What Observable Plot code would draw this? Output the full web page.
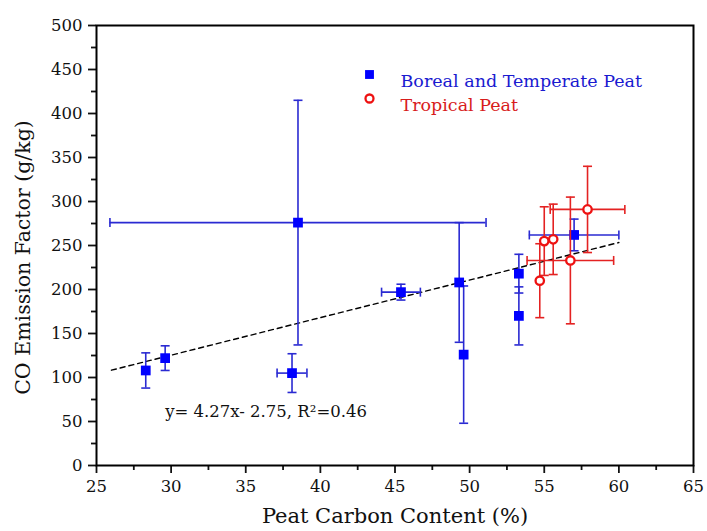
<!DOCTYPE html>
<html>
<head>
<meta charset="utf-8">
<script src="https://cdn.jsdelivr.net/npm/d3@7"></script>
<script src="https://cdn.jsdelivr.net/npm/@observablehq/plot@0.6"></script>
<style>
  html, body { margin: 0; padding: 0; background: #fff; }
  #chart svg { display: block; }
</style>
</head>
<body>
<div id="chart"></div>
<script>
// ---- data ----
const borealX    = [28.3, 29.6, 38.1, 38.5, 45.4, 49.3, 49.6, 53.3, 53.3, 57.0];
const borealY    = [108, 122, 105, 276, 197, 208, 126, 218, 170, 262];
const borealXErr = [0, 0, 1.0, 12.6, 1.3, 0, 0, 0, 0, 3.0];
const borealYErr = [20, 14, 22, 139, 9, 68, 78, 22, 33, 18];

const tropX    = [54.7, 55.0, 55.6, 56.75, 57.9];
const tropY    = [210, 255, 257, 233, 291];
const tropXErr = [0, 0, 0, 2.9, 2.5];
const tropYErr = [42, 39, 40, 72, 49];

const fitX = [26, 60];
const fitY = [108.3, 253.4];
const eqLabel = "y= 4.27x- 2.75, R\u00B2=0.46";
const eqPos = [29.6, 61];

const xTicks = [25, 30, 35, 40, 45, 50, 55, 60, 65];
const xMinor = [27.5, 32.5, 37.5, 42.5, 47.5, 52.5, 57.5, 62.5];
const yTicks = [0, 50, 100, 150, 200, 250, 300, 350, 400, 450, 500];
const yMinor = [25, 75, 125, 175, 225, 275, 325, 375, 425, 475];

const legendLabels = ["Boreal and Temperate Peat", "Tropical Peat"];
const xLabel = "Peat Carbon Content (%)";
const yLabel = "CO Emission Factor (g/kg)";

// ---- build tables ----
const boreal = borealX.map((x, i) => ({x, y: borealY[i], ex: borealXErr[i], ey: borealYErr[i]}));
const trop = tropX.map((x, i) => ({x, y: tropY[i], ex: tropXErr[i], ey: tropYErr[i]}));
const fit = fitX.map((x, i) => ({x, y: fitY[i]}));

const BLUE = "#0000ff", BLUE_ERR = "#2a2ad2", RED = "#ee1111", RED_ERR = "#e42222";
const FONT = "DejaVu Serif";

// custom cap symbols (fixed pixel width)
const capH = {draw(ctx, size) { const r = Math.sqrt(size / Math.PI); ctx.moveTo(-r, 0); ctx.lineTo(r, 0); }};
const capV = {draw(ctx, size) { const r = Math.sqrt(size / Math.PI); ctx.moveTo(0, -r); ctx.lineTo(0, r); }};

function errMarks(data, color) {
  const xe = data.filter(d => d.ex > 0);
  const ye = data.filter(d => d.ey > 0);
  const capOpt = {stroke: color, strokeWidth: 1.6, r: 4.5, fill: "none"};
  return [
    Plot.ruleX(ye, {x: "x", y1: d => d.y - d.ey, y2: d => d.y + d.ey, stroke: color, strokeWidth: 1.6}),
    Plot.ruleY(xe, {y: "y", x1: d => d.x - d.ex, x2: d => d.x + d.ex, stroke: color, strokeWidth: 1.6}),
    Plot.dot(ye, {x: "x", y: d => d.y + d.ey, symbol: capH, ...capOpt}),
    Plot.dot(ye, {x: "x", y: d => d.y - d.ey, symbol: capH, ...capOpt}),
    Plot.dot(xe, {x: d => d.x + d.ex, y: "y", symbol: capV, ...capOpt}),
    Plot.dot(xe, {x: d => d.x - d.ex, y: "y", symbol: capV, ...capOpt})
  ];
}

const chart = Plot.plot({
  width: 707,
  height: 531,
  marginLeft: 96,
  marginRight: 14,
  marginTop: 25,
  marginBottom: 66,
  x: {domain: [25, 65]},
  y: {domain: [0, 500]},
  style: {fontFamily: FONT, fontSize: "16.5px", color: "#111", background: "#fff"},
  marks: [
    Plot.axisX({ticks: xTicks, tickSize: 8, tickPadding: 7, label: null, strokeWidth: 1.8, fontSize: 16.5, fontFamily: FONT}),
    Plot.axisX({ticks: xMinor, tickSize: 5, tickFormat: () => "", label: null, strokeWidth: 1.8}),
    Plot.axisY({ticks: yTicks, tickSize: 8, tickPadding: 6, label: null, strokeWidth: 1.8, fontSize: 16.5, fontFamily: FONT}),
    Plot.axisY({ticks: yMinor, tickSize: 5, tickFormat: () => "", label: null, strokeWidth: 1.8}),
    Plot.frame({stroke: "#000", strokeWidth: 2}),
    Plot.line(fit, {x: "x", y: "y", stroke: "#000", strokeWidth: 1.4, strokeDasharray: "5,4"}),
    ...errMarks(boreal, BLUE_ERR),
    Plot.dot(boreal, {x: "x", y: "y", symbol: "square", fill: BLUE, r: 5.5}),
    ...errMarks(trop, RED_ERR),
    Plot.dot(trop, {x: "x", y: "y", symbol: "circle", fill: "#fff", stroke: RED, strokeWidth: 2.3, r: 4.2}),
    Plot.text([eqLabel], {x: eqPos[0], y: eqPos[1], text: d => d, textAnchor: "start", fontSize: 16.5, fontFamily: FONT, fill: "#111"}),
    // legend
    Plot.dot([legendLabels[0]], {frameAnchor: "top-left", dx: 273, dy: 49, symbol: "square", fill: BLUE, r: 5}),
    Plot.text([legendLabels[0]], {frameAnchor: "top-left", dx: 304, dy: 49, text: d => d, textAnchor: "start", fill: "#1a1ad0", fontSize: 17.5, fontFamily: FONT}),
    Plot.dot([legendLabels[1]], {frameAnchor: "top-left", dx: 273, dy: 73, symbol: "circle", fill: "#fff", stroke: RED, strokeWidth: 2.3, r: 4}),
    Plot.text([legendLabels[1]], {frameAnchor: "top-left", dx: 304, dy: 73, text: d => d, textAnchor: "start", fill: "#d81c1c", fontSize: 17.5, fontFamily: FONT}),
    // axis titles
    Plot.text([xLabel], {frameAnchor: "bottom", dy: 57, text: d => d, textAnchor: "middle", fontSize: 21, fontFamily: FONT, fill: "#111"}),
    Plot.text([yLabel], {frameAnchor: "left", dx: -73, dy: 12, rotate: -90, text: d => d, textAnchor: "middle", fontSize: 20.5, fontFamily: FONT, fill: "#111"})
  ]
});

document.getElementById("chart").appendChild(chart);
</script>
</body>
</html>
